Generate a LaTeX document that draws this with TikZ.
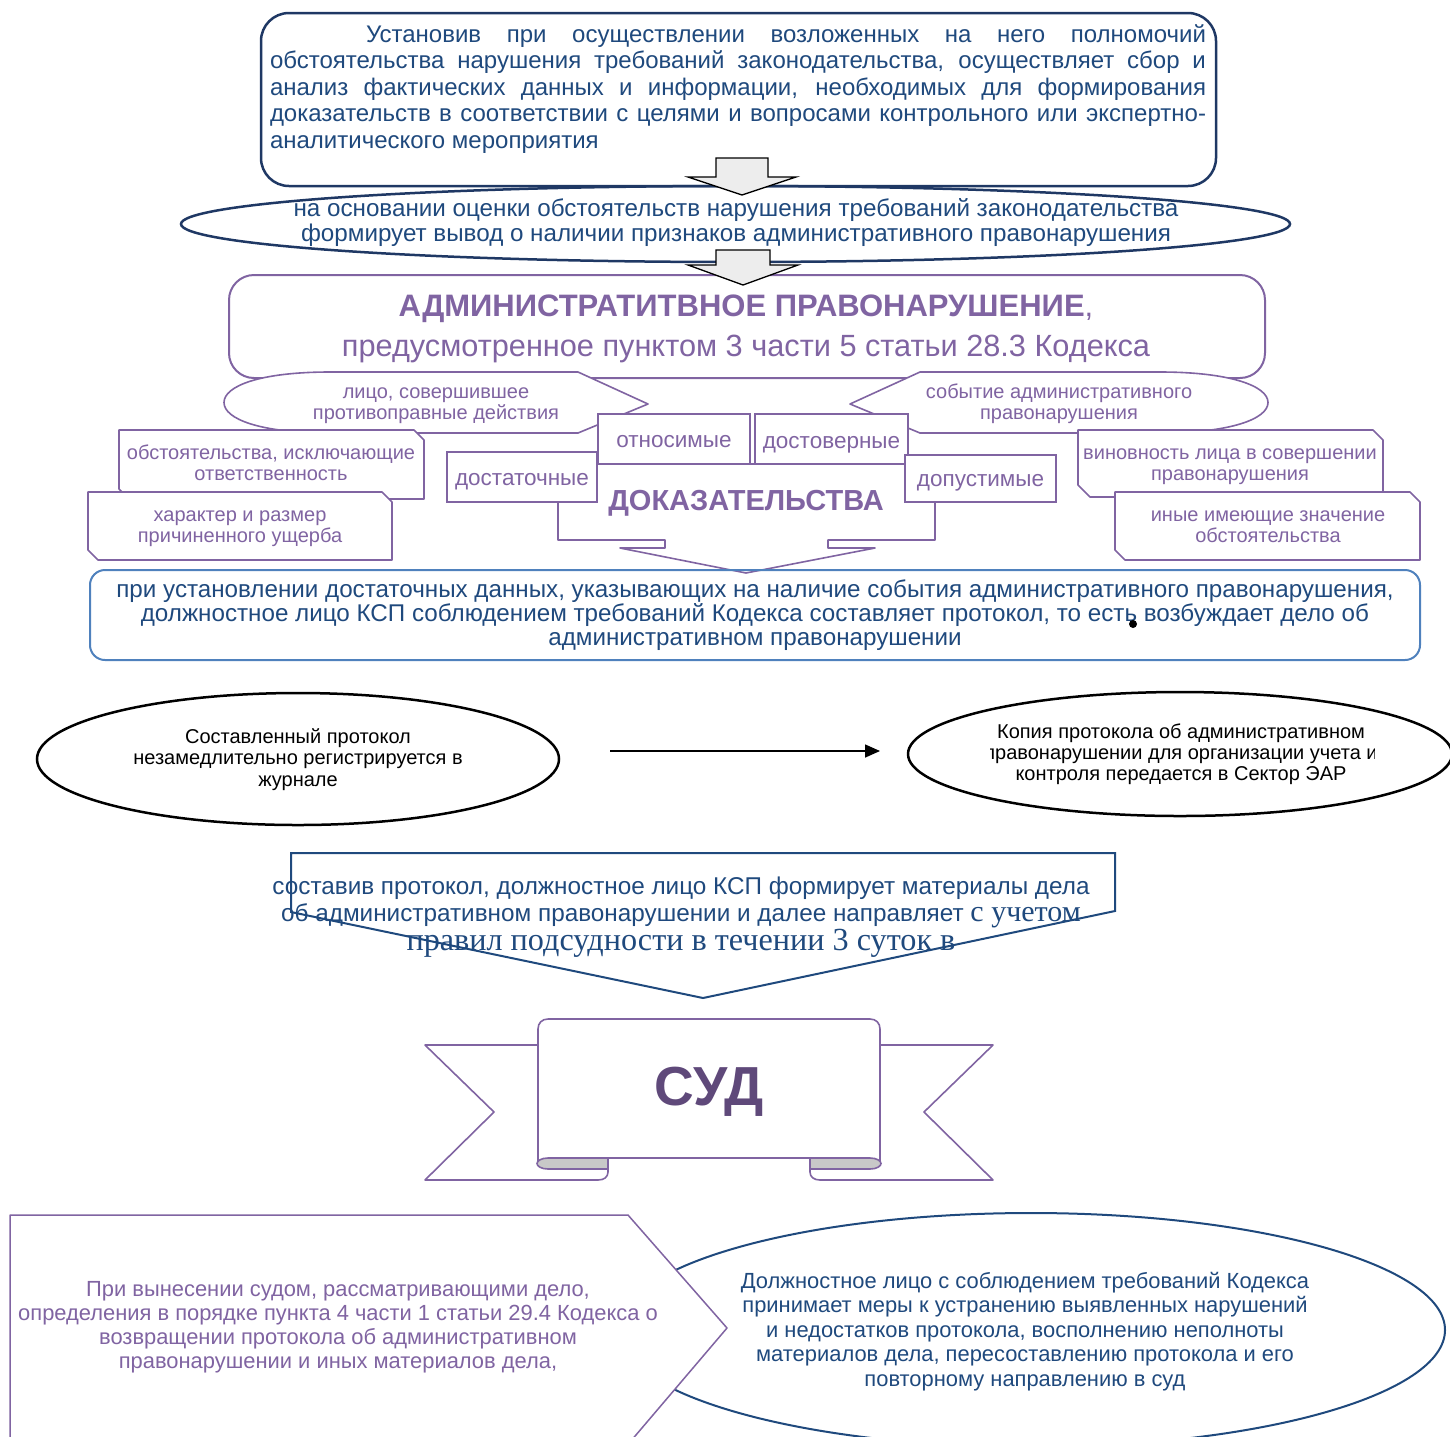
\documentclass[tikz,border=0pt]{standalone}
\usepackage{fontspec}
\setmainfont{Liberation Sans}
\newfontfamily\seriffam{Liberation Serif}
\usetikzlibrary{arrows.meta,shapes.geometric}
\definecolor{navy}{HTML}{1F3864}
\definecolor{dblue}{HTML}{1F497D}
\definecolor{purp}{HTML}{8064A2}
\definecolor{dpurp}{HTML}{5F497A}
\definecolor{lblue}{HTML}{4F81BD}
\definecolor{agrey}{HTML}{EDEDED}
\definecolor{cgrey}{HTML}{C8C8C8}
\newcommand\fs[2]{\fontsize{#1}{#2}\selectfont}
\begin{document}
\begin{tikzpicture}[x=1pt,y=-1pt,
  every node/.style={inner sep=0pt, outer sep=0pt},
  txt/.style={align=center, anchor=base},
  dtxt/.style={txt, text=dblue},
  ptxt/.style={txt, text=purp},
  pshape/.style={draw=purp, line width=1.6pt, fill=white, line join=round},
  evbox/.style={draw=purp, line width=1.4pt, fill=white, rectangle},
  gblock/.style={draw=black, line width=1.3pt, fill=agrey, line join=miter},
]
\useasboundingbox (0,0) rectangle (1450,1436);

% ---------- top box ----------
\node[draw=navy, line width=2.5pt, rounded corners=28pt, minimum width=955pt, minimum height=173pt, fill=white] (topbox) at (738.5,99.5) {};
\node[text=dblue, align=left, anchor=base west, font=\fs{24}{26.5}] (toptext) at (270,148)
 {\hspace*{96pt}\makebox[840pt][s]{Установив при осуществлении возложенных на него полномочий}\\
  \makebox[936pt][s]{обстоятельства нарушения требований законодательства, осуществляет сбор и}\\
  \makebox[936pt][s]{анализ фактических данных и информации, необходимых для формирования}\\
  \makebox[936pt][s]{доказательств в соответствии с целями и вопросами контрольного или экспертно-}\\
  аналитического мероприятия};

% ---------- conclusion ellipse ----------
\node[draw=navy, line width=2.5pt, ellipse, minimum width=1109pt, minimum height=76pt] (concl) at (735.5,224) {};
\node[dtxt, font=\fs{24.2}{25}] (concltext) at (736,241)
 {на основании оценки обстоятельств нарушения требований законодательства\\
  формирует вывод о наличии признаков административного правонарушения};

\draw[gblock] (716,158) -- (768,158) -- (768,177) -- (796,177) -- (742,195) -- (688,177) -- (716,177) -- cycle;

% ---------- offence box ----------
\node[draw=purp, line width=2pt, rounded corners=25pt, minimum width=1036pt, minimum height=103pt, fill=white] (offbox) at (747,326.5) {};
\node[ptxt, font=\fs{31}{34}\bfseries] (offtitle) at (746,316) {АДМИНИСТРАТИТВНОЕ ПРАВОНАРУШЕНИЕ{\mdseries,}};
\node[ptxt, font=\fs{30.7}{32}] (offsub) at (746,356) {предусмотренное пунктом 3 части 5 статьи 28.3 Кодекса};

\draw[gblock] (716,250) -- (770,250) -- (770,265) -- (798,265) -- (743,285) -- (688,265) -- (716,265) -- cycle;

% ---------- bubbles ----------
\draw[pshape] (578,372) -- (648,404) -- (578,433) -- (330,433) .. controls (260,433) and (224,419) .. (224,402.5) .. controls (224,386) and (260,372) .. (330,372) -- cycle;
\node[ptxt, font=\fs{20}{21.5}] (person) at (436,419.5) {лицо, совершившее\\противоправные действия};
\draw[pshape] (920,372) -- (850,404) -- (920,433) -- (1160,433) .. controls (1230,433) and (1268,419) .. (1268,402.5) .. controls (1268,386) and (1230,372) .. (1160,372) -- cycle;
\node[ptxt, font=\fs{20}{21.5}] (event) at (1059,419.5) {событие административного\\правонарушения};

% ---------- evidence arrow ----------
\draw[pshape] (558,464) -- (558,540) -- (665,540) -- (665,548) -- (620,548) -- (746,573) -- (875,548) -- (828,548) -- (828,540) -- (935,540) -- (935,464) -- cycle;
\node[evbox, minimum width=152pt, minimum height=50pt] (rel) at (674,439) {};
\node[ptxt, font=\fs{22.5}{24}] (reltext) at (674,447) {относимые};
\node[evbox, minimum width=153pt, minimum height=50pt] (rely) at (831.5,439) {};
\node[ptxt, font=\fs{22.5}{24}] (relytext) at (831.5,448) {достоверные};
\node[evbox, minimum width=150pt, minimum height=50pt] (suff) at (522,477) {};
\node[ptxt, font=\fs{22.5}{24}] (sufftext) at (522,485) {достаточные};
\node[evbox, minimum width=151pt, minimum height=47pt] (adm) at (980.5,478.5) {};
\node[ptxt, font=\fs{22.5}{24}] (admtext) at (980.5,486) {допустимые};
\node[ptxt, font=\fs{29}{30}\bfseries] (evid) at (746,510) {ДОКАЗАТЕЛЬСТВА};

% ---------- side snipped boxes ----------
\draw[pshape] (119,430) -- (414,430) -- (424,440) -- (424,499) -- (129,499) -- (119,489) -- cycle;
\node[ptxt, font=\fs{20}{21.5}] (excl) at (271,480.5) {обстоятельства, исключающие\\ответственность};
\draw[pshape] (88,492) -- (382,492) -- (392,502) -- (392,560) -- (98,560) -- (88,550) -- cycle;
\node[ptxt, font=\fs{20}{21.5}] (damage) at (240,542.5) {характер и размер\\причиненного ущерба};
\draw[pshape] (1078,430) -- (1373,430) -- (1383,440) -- (1383,497) -- (1090,497) -- (1078,485) -- cycle;
\node[ptxt, font=\fs{20}{21.5}] (guilt) at (1230,480.5) {виновность лица в совершении\\правонарушения};
\draw[pshape] (1115,492) -- (1410,492) -- (1420,502) -- (1420,560) -- (1125,560) -- (1115,550) -- cycle;
\node[ptxt, font=\fs{20}{21.5}] (other) at (1268,542.5) {иные имеющие значение\\обстоятельства};

% ---------- protocol box ----------
\node[draw=lblue, line width=2pt, rounded corners=15pt, minimum width=1330pt, minimum height=90pt] (proto) at (755,615) {};
\node[dtxt, font=\fs{24.2}{24}] (prototext) at (755,645)
 {при установлении достаточных данных, указывающих на наличие события административного правонарушения,\\
  должностное лицо КСП соблюдением требований Кодекса составляет протокол, то есть возбуждает дело об\\
  административном правонарушении};
\node[circle, fill=black, minimum size=8pt] (dot) at (1133,624) {};

% ---------- ellipses ----------
\node[draw=black, line width=2.5pt, ellipse, minimum width=522pt, minimum height=132pt] (journal) at (298,759) {};
\node[txt, font=\fs{20}{21.5}] (journaltext) at (298,786) {Составленный протокол\\незамедлительно регистрируется в\\журнале};
\node[draw=black, line width=2.5pt, ellipse, minimum width=544pt, minimum height=124pt] (copy) at (1180,754) {};
\begin{scope}
\clip (990,700) rectangle (1374,800);
\node[txt, font=\fs{20}{21}] (copytext) at (1181,780) {Копия протокола об административном\\правонарушении для организации учета и\\контроля передается в Сектор ЭАР};
\end{scope}
\coordinate (a1) at (610,751);
\coordinate (a2) at (880,751);
\draw[line width=1.5pt, -{Triangle[length=15pt,width=13pt]}] (a1) -- (a2);

% ---------- send pentagon ----------
\draw[draw=dblue, line width=2pt, line join=miter] (291,853) -- (1115,853) -- (1115,911) -- (703,998) -- (291,912) -- cycle;
\node[dtxt, font=\fs{24.3}{27}] (sendtext) at (681,950)
 {составив протокол, должностное лицо КСП формирует материалы дела\\
  об административном правонарушении и далее направляет {\seriffam\fs{30}{27}с учетом}\\
  {\seriffam\fs{32.2}{26}правил подсудности в течении 3 суток в}};

% ---------- ribbon ----------
\draw[pshape] (538,1045) -- (425,1045) -- (494,1112) -- (425,1180) -- (598,1180) .. controls (604,1180) and (608,1177) .. (608,1172) -- (608,1158) -- (538,1158) -- cycle;
\draw[pshape] (880,1045) -- (993,1045) -- (924,1112) -- (993,1180) -- (820,1180) .. controls (814,1180) and (810,1177) .. (810,1172) -- (810,1158) -- (880,1158) -- cycle;
\draw[pshape] (538,1163) -- (538,1029) .. controls (538,1023) and (542,1019) .. (548,1019) -- (870,1019) .. controls (876,1019) and (880,1023) .. (880,1029) -- (880,1163);
\fill[white] (540,1030) rectangle (878,1157);
\draw[draw=purp, line width=1.6pt] (548,1158) -- (870,1158);
\draw[draw=purp, line width=1.6pt, fill=cgrey] (608,1158) -- (548,1158) .. controls (541,1158) and (537,1161) .. (537,1163.5) .. controls (537,1166) and (541,1169) .. (548,1169) -- (608,1169) -- cycle;
\draw[draw=purp, line width=1.6pt, fill=cgrey] (810,1158) -- (870,1158) .. controls (877,1158) and (881,1161) .. (881,1163.5) .. controls (881,1166) and (877,1169) .. (870,1169) -- (810,1169) -- cycle;
\node (ribbon) at (709,1090) {};
\node[txt, text=dpurp, font=\fs{55}{57}\bfseries] (court) at (709,1105) {СУД};

% ---------- bottom ----------
\node[draw=dblue, line width=2pt, ellipse, minimum width=828pt, minimum height=234pt] (fix) at (1031,1330) {};
\draw[pshape, line width=1.5pt] (10,1215) -- (628,1215) -- (727,1328) -- (630,1442) -- (10,1442) -- cycle;
\node[ptxt, font=\fs{21.9}{24}] (rettext) at (338,1368)
 {При вынесении судом, рассматривающими дело,\\
  определения в порядке пункта 4 части 1 статьи 29.4 Кодекса о\\
  возвращении протокола об административном\\
  правонарушении и иных материалов дела,};
\node[dtxt, font=\fs{21.9}{24.5}] (fixtext) at (1025,1386)
 {Должностное лицо с соблюдением требований Кодекса\\
  принимает меры к устранению выявленных нарушений\\
  и недостатков протокола, восполнению неполноты\\
  материалов дела, пересоставлению протокола и его\\
  повторному направлению в суд};
\end{tikzpicture}
\end{document}
